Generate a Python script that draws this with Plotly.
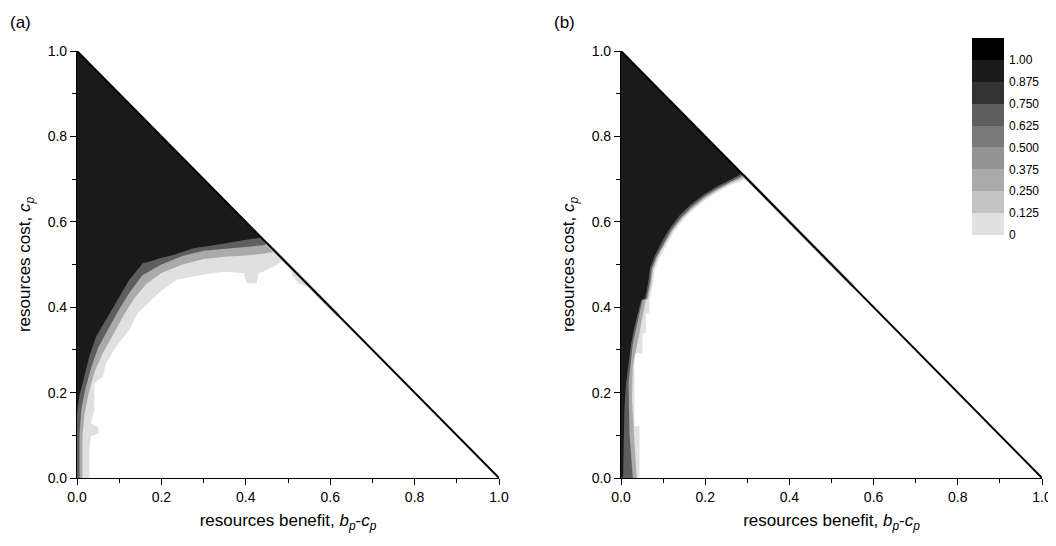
import plotly.graph_objects as go

# ---------------- data ----------------
tri_x = [0.0, 1.0]
tri_y = [1.0, 0.0]

a_black_x = [0.0, 0.0, 0.005, 0.017, 0.029, 0.045, 0.073, 0.100, 0.124, 0.156, 0.173, 0.200, 0.228, 0.276, 0.331, 0.394, 0.437]
a_black_y = [0.0, 0.150, 0.190, 0.237, 0.284, 0.331, 0.378, 0.425, 0.464, 0.503, 0.507, 0.516, 0.522, 0.538, 0.546, 0.557, 0.563]

a_dark_x = [0.006, 0.006, 0.010, 0.020, 0.034, 0.050, 0.075, 0.100, 0.125, 0.155, 0.200, 0.250, 0.300, 0.350, 0.400, 0.440, 0.452]
a_dark_y = [0.0, 0.100, 0.160, 0.210, 0.260, 0.305, 0.350, 0.395, 0.435, 0.475, 0.500, 0.520, 0.532, 0.537, 0.541, 0.545, 0.548]

a_light_x = [0.013, 0.013, 0.018, 0.028, 0.042, 0.060, 0.085, 0.110, 0.135, 0.165, 0.200, 0.250, 0.300, 0.350, 0.400, 0.440, 0.470]
a_light_y = [0.0, 0.100, 0.150, 0.200, 0.250, 0.290, 0.335, 0.380, 0.420, 0.455, 0.480, 0.500, 0.513, 0.518, 0.521, 0.525, 0.530]

a_outer_x = [0.030, 0.029, 0.033, 0.051, 0.051, 0.033, 0.041, 0.041, 0.061, 0.069, 0.092, 0.124, 0.144, 0.173, 0.197, 0.236, 0.291, 0.347, 0.395, 0.402, 0.426, 0.430, 0.441, 0.465, 0.490]
a_outer_y = [0.0, 0.066, 0.097, 0.105, 0.118, 0.128, 0.160, 0.221, 0.237, 0.269, 0.307, 0.347, 0.386, 0.413, 0.436, 0.464, 0.475, 0.483, 0.480, 0.456, 0.456, 0.480, 0.483, 0.495, 0.510]

a_blob_x = [0.505, 0.510, 0.525, 0.545, 0.552]
a_blob_y = [0.495, 0.475, 0.455, 0.448, 0.448]

b_black_x = [0.0, 0.005, 0.006, 0.008, 0.012, 0.018, 0.024, 0.032, 0.040, 0.048, 0.057, 0.065, 0.069, 0.081, 0.097, 0.116, 0.140, 0.164, 0.195, 0.227, 0.259, 0.287]
b_black_y = [0.0, 0.003, 0.089, 0.159, 0.222, 0.276, 0.315, 0.354, 0.386, 0.417, 0.421, 0.460, 0.491, 0.522, 0.553, 0.585, 0.616, 0.639, 0.663, 0.682, 0.698, 0.713]

b_dark_x = [0.028, 0.020, 0.018, 0.028, 0.051, 0.061, 0.069, 0.073, 0.085, 0.101, 0.120, 0.144, 0.168, 0.198, 0.229, 0.260, 0.291]
b_dark_y = [0.0, 0.105, 0.222, 0.315, 0.417, 0.420, 0.459, 0.490, 0.520, 0.550, 0.582, 0.612, 0.635, 0.659, 0.678, 0.694, 0.709]

b_light_x = [0.037, 0.032, 0.026, 0.028, 0.044, 0.059, 0.064, 0.072, 0.076, 0.088, 0.104, 0.123, 0.146, 0.170, 0.200, 0.231, 0.261, 0.295]
b_light_y = [0.0, 0.089, 0.183, 0.261, 0.339, 0.417, 0.419, 0.458, 0.489, 0.519, 0.548, 0.580, 0.609, 0.632, 0.656, 0.675, 0.691, 0.705]

b_outer_x = [0.044, 0.044, 0.032, 0.032, 0.051, 0.051, 0.059, 0.059, 0.067, 0.067, 0.068, 0.076, 0.080, 0.092, 0.108, 0.126, 0.149, 0.172, 0.202, 0.232, 0.262, 0.300]
b_outer_y = [0.0, 0.121, 0.121, 0.292, 0.292, 0.339, 0.339, 0.386, 0.386, 0.417, 0.418, 0.457, 0.487, 0.517, 0.546, 0.577, 0.606, 0.629, 0.652, 0.671, 0.687, 0.700]

a_fringe_x = [0.45, 0.62]
b_fringe_x = [0.29, 0.55]

cbar_labels = ["0", "0.125", "0.250", "0.375", "0.500", "0.625", "0.750", "0.875", "1.00"]
cbar_gray = [224, 196, 170, 148, 122, 94, 51, 26, 0]

# ---------------- figure ----------------
OFF = 8  # page body margin
W, H = 1056 - OFF, 546 - 2 * OFF
FONT = "Liberation Sans, Arial, sans-serif"

def g(v):
    return f"rgb({v},{v},{v})"

def fx(px):
    return (px - OFF) / W

def fy(py):
    return (H - (py - OFF)) / H

fig = go.Figure()

def poly(xs, ys, color, xa, ya):
    px = [0.0, 0.0] + list(xs)
    py = [1.0, 0.0] + list(ys)
    fig.add_trace(go.Scatter(x=px, y=py, mode="lines", fill="toself",
                             fillcolor=color, line=dict(width=0, color=color),
                             hoverinfo="skip", showlegend=False, xaxis=xa, yaxis=ya))

def panel(xa, ya, layers, fringe_x, extra=None):
    for xs, ys, c in layers:
        poly(xs, ys, c, xa, ya)
    if extra is not None:
        fig.add_trace(go.Scatter(x=extra[0], y=extra[1], mode="lines", fill="toself",
                                 fillcolor=g(224), line=dict(width=0, color=g(224)),
                                 hoverinfo="skip", showlegend=False, xaxis=xa, yaxis=ya))
    fig.add_trace(go.Scatter(x=fringe_x, y=[1 - v for v in fringe_x], mode="lines",
                             line=dict(color=g(200), width=3.5), hoverinfo="skip",
                             showlegend=False, xaxis=xa, yaxis=ya))
    fig.add_trace(go.Scatter(x=tri_x, y=tri_y, mode="lines",
                             line=dict(color="black", width=2), hoverinfo="skip",
                             showlegend=False, xaxis=xa, yaxis=ya))

panel("x", "y", [
    (a_outer_x, a_outer_y, g(224)),
    (a_light_x, a_light_y, g(170)),
    (a_dark_x, a_dark_y, g(94)),
    (a_black_x, a_black_y, g(26)),
], a_fringe_x, extra=(a_blob_x, a_blob_y))

panel("x2", "y2", [
    (b_outer_x, b_outer_y, g(224)),
    (b_light_x, b_light_y, g(170)),
    (b_dark_x, b_dark_y, g(94)),
    (b_black_x, b_black_y, g(26)),
], b_fringe_x)

n = len(cbar_gray)
fig.add_trace(go.Heatmap(
    x=[0], y=[i + 0.5 for i in range(n)], z=[[i] for i in range(n)],
    zmin=0, zmax=n - 1,
    colorscale=[[i / (n - 1), g(cbar_gray[i])] for i in range(n)],
    showscale=False, hoverinfo="skip", xaxis="x3", yaxis="y3"))

x_title = "resources benefit, <i>b</i><sub><i>p</i></sub>-<i>c</i><sub><i>p</i></sub>"
y_title = "resources cost, <i>c</i><sub><i>p</i></sub>"

def xax(domain, anchor):
    return dict(domain=domain, anchor=anchor, range=[0, 1], showgrid=False, zeroline=False,
                automargin=False, ticklabeloverflow="allow",
                showline=True, linecolor="black", linewidth=1.2, mirror=False,
                ticks="outside", ticklen=6, tickwidth=1.2, tickcolor="black",
                tick0=0, dtick=0.2, tickformat=".1f",
                minor=dict(ticks="outside", ticklen=3.5, tickwidth=1.2, tickcolor="black", dtick=0.1),
                tickfont=dict(family=FONT, size=14, color="black"),
                title=dict(text=x_title, font=dict(family=FONT, size=17, color="black"), standoff=10))

def yax(domain, anchor):
    d = xax(domain, anchor)
    d["title"] = dict(text=y_title, font=dict(family=FONT, size=17, color="black"), standoff=12)
    return d

ydom = [fy(478), fy(51)]
fig.update_layout(
    width=W, height=H, margin=dict(l=0, r=0, t=0, b=0, autoexpand=False),
    paper_bgcolor="white", plot_bgcolor="white", showlegend=False,
    xaxis=xax([fx(77), fx(499)], "y"),
    yaxis=yax(ydom, "x"),
    xaxis2=xax([fx(621), fx(1042)], "y2"),
    yaxis2=yax(ydom, "x2"),
    xaxis3=dict(domain=[fx(972), fx(1004)], anchor="y3", range=[-0.5, 0.5], visible=False,
                automargin=False),
    yaxis3=dict(domain=[fy(235), fy(38)], anchor="x3", range=[0, n], side="right",
                tickvals=list(range(n)), ticktext=cbar_labels, ticks="", showline=False,
                showgrid=False, zeroline=False, ticklabelstandoff=4, automargin=False,
                tickfont=dict(family=FONT, size=12, color="black")),
    annotations=[
        dict(text="(a)", x=fx(8), y=fy(23), xref="paper", yref="paper", xanchor="left",
             yanchor="middle", showarrow=False, font=dict(family=FONT, size=17, color="black")),
        dict(text="(b)", x=fx(552), y=fy(23), xref="paper", yref="paper", xanchor="left",
             yanchor="middle", showarrow=False, font=dict(family=FONT, size=17, color="black")),
    ],
)

fig.write_html("out.html")
